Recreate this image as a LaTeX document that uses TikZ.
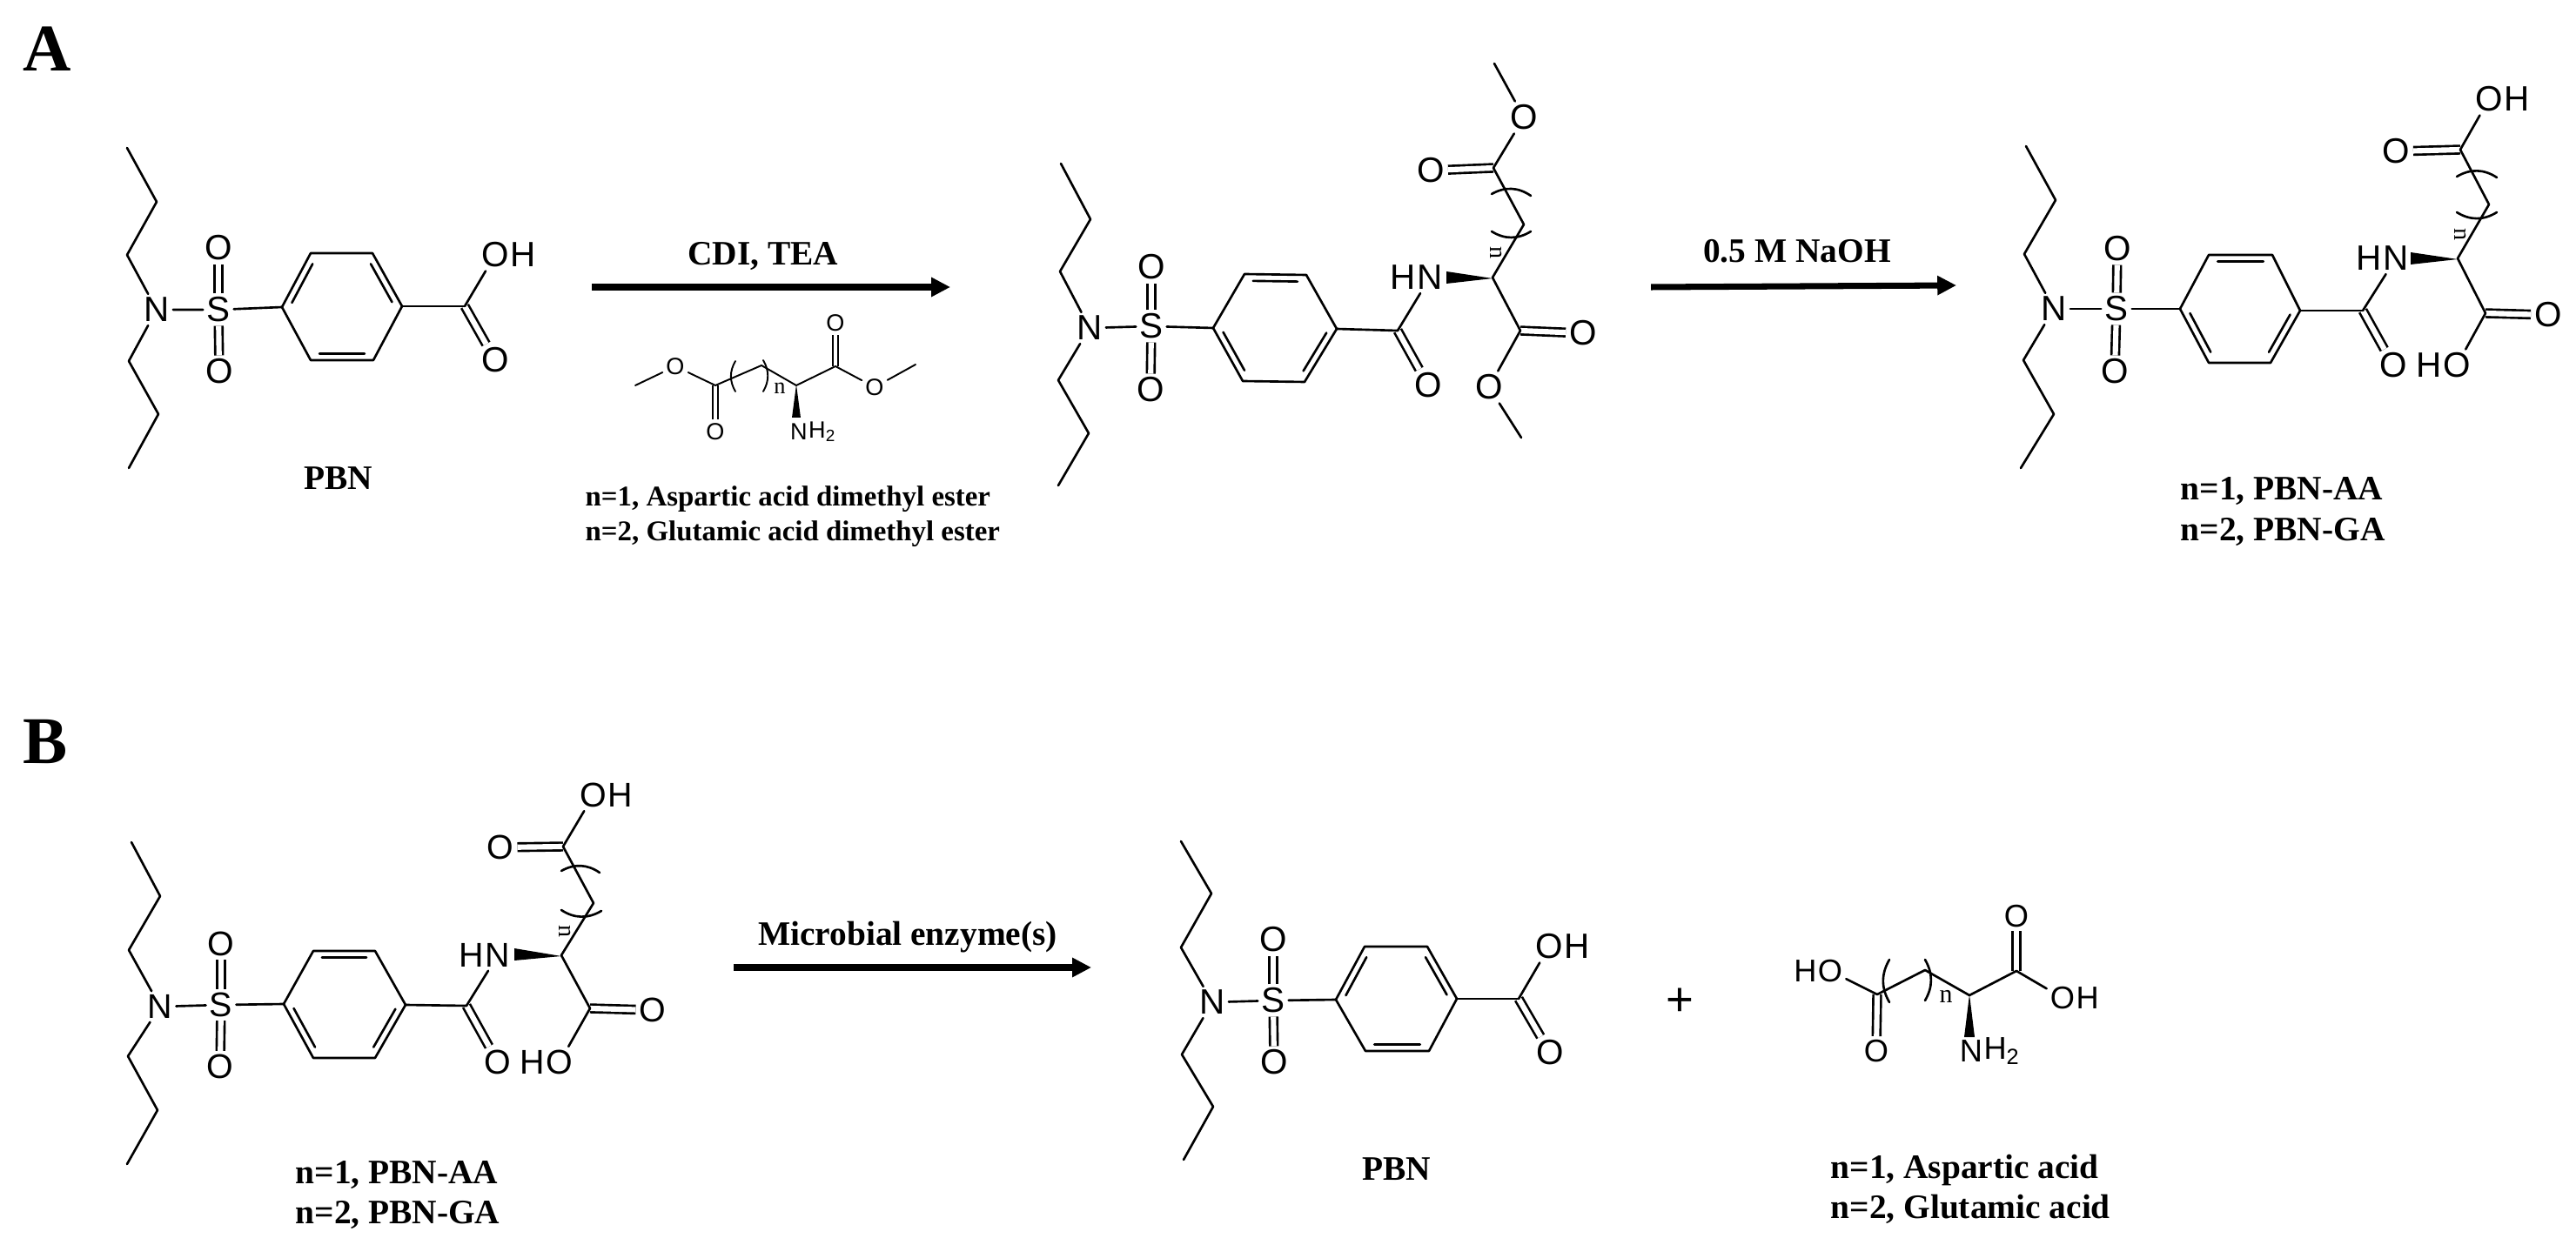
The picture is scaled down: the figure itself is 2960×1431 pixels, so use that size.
\documentclass[tikz,border=0pt]{standalone}
\usepackage{fontspec}
\setmainfont{Liberation Serif}
\setsansfont{Liberation Sans}
\usepackage{xcolor}
\usepackage{tikz}
\usetikzlibrary{calc,arrows.meta}
\tikzset{
  bond/.style={draw=black, line width=0.75pt, line cap=round, line join=round},
  thinbond/.style={draw=black, line width=0.55pt, line cap=round, line join=round},
  dbl/.style={draw=black, line width=0.75pt, double, double distance between line centers=2.5pt},
  thindbl/.style={draw=black, line width=0.55pt, double, double distance between line centers=1.8pt},
  atom/.style={font=\sffamily\fontsize{#1pt}{#1pt}\selectfont, inner sep=1pt},
  tailr/.style={atom=#1, anchor=west, inner xsep=0pt, xshift=-1pt},
  taill/.style={atom=#1, anchor=east, inner xsep=0pt, xshift=1pt},
  idx/.style={font=\fontsize{#1pt}{#1pt}\selectfont, inner sep=0pt},
  lab/.style={font=\bfseries\fontsize{#1pt}{#1pt}\selectfont, inner sep=0pt, anchor=base},
  lab/.default=11.2,
  side/.style={lab, anchor=base west},
  panel/.style={font=\bfseries\fontsize{21.8pt}{21.8pt}\selectfont, inner sep=0pt, anchor=base},
  react/.style={draw=black, line width=2pt, -{Triangle[length=6.2pt,width=6pt]}},
}
% N,S,ring and carbonyl carbon shared by every sulfonyl molecule
\newcommand{\pbncore}[3]{%
  \node[atom=#2] (#1N) at (#1pN) {N};
  \node[atom=#2] (#1S) at (#1pS) {S};
  \node[atom=#2] (#1U) at (#1pU) {O};
  \node[atom=#2] (#1D) at (#1pD) {O};
  \node[atom=#2] (#1E) at (#1pE) {O};
  \draw[dbl] (#1S) -- (#1U);
  \draw[dbl] (#1S) -- (#1D);
  \draw[dbl] (#1C) -- (#1E);
  \draw[bond] (#1t1) -- (#1c1) -- (#1c2) -- (#1N) -- (#1c3) -- (#1c4) -- (#1t2);
  \draw[bond] (#1N) -- (#1S) -- (#1r1);
  \draw[bond] (#1r1) -- (#1r2) -- (#1r3) -- (#1r4) -- (#1r5) -- (#1r6) -- cycle;
  \draw[bond] (#1r4) -- (#1C);
  \foreach \u/\v in {#3} {
    \draw[bond] ($(#1\u)!0.14!(#1\v)!2.2pt!-90:(#1\v)$) -- ($(#1\v)!0.14!(#1\u)!2.2pt!90:(#1\u)$);
  }
}
% amide NH, wedge, side chain with its bracket
\newcommand{\pbnchain}[2]{%
  \node[atom=#2] (#1HN) at (#1pHN) {N};
  \node[taill=#2] (#1HH) at (#1HN.west) {H};
  \draw[bond] (#1C) -- (#1HN);
  \fill ($(#1Ca)+(0,1)$) -- ($(#1w)+(0,-7)$) -- ($(#1w)+(0,7)$) -- cycle;
  \draw[dbl] (#1c5) -- (#1O5);
  \draw[dbl] (#1c6) -- (#1O6);
  \draw[bond] (#1c5) -- (#1Ca) -- (#1ch) -- (#1c6);
  \draw[bond] (#1pa) to[bend left=32] (#1pb);
  \draw[bond] (#1pc) to[bend right=32] (#1pd);
  \node[idx=8, rotate=-90] (#1idx) at (#1pn) {n};
}

\begin{document}
\begin{tikzpicture}[x=0.01cm, y=-0.01cm]
  \useasboundingbox (0,0) rectangle (2960,1431);
  \node[panel] (A) at (54,82) {A};
  \node[panel] (B) at (52,877) {B};

  % PBN, top left
  \foreach \id/\px/\py in {t1/146/170, c1/180/232, c2/146/293, c3/148/415, c4/182/476, t2/148/538,
    r1/324/353, r2/357/291, r3/428/291, r4/462/352, r5/429/414, r6/357/414, C/534/352,
    pN/180/356, pS/251/356, pU/251/285, pD/252/427, pE/569/414} {
    \coordinate (a\id) at (\px,\py);
  }
  \pbncore{a}{11.5}{r1/r2, r3/r4, r5/r6}
  \node[atom=11.5] (aOH) at (569,293) {O};
  \node[tailr=11.5] (aH) at (aOH.east) {H};
  \draw[bond] (aC) -- (aOH);
  \node[lab] (alab) at (389,563) {PBN};

  % first step
  \coordinate (s1) at (680,330);
  \coordinate (e1) at (1092,330);
  \draw[react] (s1) -- (e1);
  \node[lab] (cdi) at (877,305) {CDI, TEA};

  % amino ester under the arrow
  \coordinate (gme1) at (730,443);
  \coordinate (gc1) at (822,443);
  \coordinate (gch) at (875,420);
  \coordinate (gca) at (915,443);
  \coordinate (gc2) at (960,421);
  \coordinate (gme2) at (1052,419);
  \node[atom=7.7] (gO1) at (776,421) {O};
  \node[atom=7.7] (gO2) at (822,496) {O};
  \node[atom=7.7] (gO3) at (960,371) {O};
  \node[atom=7.7] (gO4) at (1005,445) {O};
  \node[atom=7.7, inner sep=0pt] (gN) at (918,496) {N};
  \node[atom=7.7, anchor=west, inner xsep=0pt] (gH) at (gN.east) {H\textsubscript{2}};
  \draw[thindbl] (gc1) -- (gO2);
  \draw[thindbl] (gc2) -- (gO3);
  \draw[thinbond] (gme1) -- (gO1) -- (gc1) -- (gch) -- (gca) -- (gc2) -- (gO4) -- (gme2);
  \fill (915,442) -- (910,480) -- (920,480) -- cycle;
  \draw[thinbond] (845,415) to[bend right=30] (845,450);
  \draw[thinbond] (877,414) to[bend left=30] (877,450);
  \node[idx=7.5] (gidx) at (896,446) {n};
  \node[lab=9.35, anchor=base west] (gl1) at (672,582) {n=1, Aspartic acid dimethyl ester};
  \node[lab=9.35, anchor=base west] (gl2) at (672,622) {n=2, Glutamic acid dimethyl ester};

  % dimethyl ester, top middle
  \foreach \id/\px/\py in {t1/1219/188, c1/1253/252, c2/1218/312, c3/1216/437, c4/1251/498, t2/1216/558,
    r1/1394/377, r2/1430/315, r3/1501/316, r4/1536/378, r5/1499/439, r6/1428/438, C/1606/380,
    pN/1252/377, pS/1323/375, pU/1323/307, pD/1322/448, pE/1641/443, pHN/1643/319,
    Ca/1715/319, w/1662/319, c5/1747/380, ch/1751/258, c6/1716/193,
    pa/1714/223, pb/1759/225, pc/1714/266, pd/1759/266, pn/1719/291} {
    \coordinate (m\id) at (\px,\py);
  }
  \node[atom=11.5] (mO5) at (1819,383) {O};
  \node[atom=11.5] (mO6) at (1644,196) {O};
  \node[atom=11.5] (mO7) at (1711,445) {O};
  \node[atom=11.5] (mO8) at (1751,135) {O};
  \coordinate (mme1) at (1748,503);
  \coordinate (mme2) at (1717,73);
  \pbncore{m}{11.5}{r2/r3, r4/r5, r6/r1}
  \pbnchain{m}{11.5}
  \draw[bond] (mc5) -- (mO7) -- (mme1);
  \draw[bond] (mc6) -- (mO8) -- (mme2);

  % second step
  \coordinate (s2) at (1897,330);
  \coordinate (e2) at (2248,328);
  \draw[react] (s2) -- (e2);
  \node[lab] (naoh) at (2065,302) {0.5 M NaOH};

  % diacid, top right
  \foreach \id/\px/\py in {t1/2328/168, c1/2362/230, c2/2326/292, c3/2325/414, c4/2360/476, t2/2322/538,
    r1/2505/355, r2/2538/293, r3/2611/293, r4/2643/357, r5/2609/417, r6/2538/417, C/2715/357,
    pN/2360/355, pS/2432/355, pU/2433/286, pD/2430/427, pE/2750/420, pHN/2753/297,
    Ca/2824/297, w/2770/297, c5/2856/360, ch/2860/235, c6/2827/172,
    pa/2823/203, pb/2869/204, pc/2823/244, pd/2869/244, pn/2827/270} {
    \coordinate (r\id) at (\px,\py);
  }
  \node[atom=11.5] (rO5) at (2928,362) {O};
  \node[atom=11.5] (rO6) at (2753,174) {O};
  \node[atom=11.5] (rO7) at (2823,420) {O};
  \node[atom=11.5] (rO8) at (2860,114) {O};
  \node[taill=11.5] (rH7) at (rO7.west) {H};
  \node[tailr=11.5] (rH8) at (rO8.east) {H};
  \pbncore{r}{11.5}{r2/r3, r4/r5, r6/r1}
  \pbnchain{r}{11.5}
  \draw[bond] (rc5) -- (rO7);
  \draw[bond] (rc6) -- (rO8);
  \node[side] (rl1) at (2505,575) {n=1, PBN-AA};
  \node[side] (rl2) at (2505,622) {n=2, PBN-GA};

  % diacid, bottom left
  \foreach \id/\px/\py in {t1/151/968, c1/184/1030, c2/148/1092, c3/147/1214, c4/181/1276, t2/146/1338,
    r1/326/1154, r2/360/1093, r3/431/1093, r4/466/1155, r5/431/1216, r6/360/1216, C/536/1156,
    pN/184/1157, pS/254/1155, pU/254/1085, pD/253/1226, pE/572/1221, pHN/572/1098,
    Ca/645/1098, w/591/1097, c5/678/1159, ch/682/1038, c6/647/973,
    pa/645/1001, pb/689/1003, pc/645/1046, pd/691/1047, pn/649/1071} {
    \coordinate (b\id) at (\px,\py);
  }
  \node[atom=11.2] (bO5) at (750,1161) {O};
  \node[atom=11.2] (bO6) at (575,974) {O};
  \node[atom=11.2] (bO7) at (643,1221) {O};
  \node[atom=11.2] (bO8) at (682,914) {O};
  \node[taill=11.2] (bH7) at (bO7.west) {H};
  \node[tailr=11.2] (bH8) at (bO8.east) {H};
  \pbncore{b}{11.2}{r2/r3, r4/r5, r6/r1}
  \pbnchain{b}{11.2}
  \draw[bond] (bc5) -- (bO7);
  \draw[bond] (bc6) -- (bO8);
  \node[side] (bl1) at (339,1360) {n=1, PBN-AA};
  \node[side] (bl2) at (339,1406) {n=2, PBN-GA};

  % third step
  \coordinate (s3) at (843,1112);
  \coordinate (e3) at (1254,1112);
  \draw[react] (s3) -- (e3);
  \node[lab] (enz) at (1043,1086) {Microbial enzyme(s)};

  % PBN, bottom middle
  \foreach \id/\px/\py in {t1/1357/967, c1/1392/1027, c2/1357/1089, c3/1358/1212, c4/1394/1272, t2/1360/1333,
    r1/1535/1149, r2/1568/1088, r3/1640/1088, r4/1674/1148, r5/1642/1208, r6/1569/1208, C/1745/1148,
    pN/1393/1152, pS/1463/1150, pU/1463/1080, pD/1464/1221, pE/1781/1210} {
    \coordinate (p\id) at (\px,\py);
  }
  \pbncore{p}{11.5}{r1/r2, r3/r4, r5/r6}
  \node[atom=11.5] (pOH) at (1780,1088) {O};
  \node[tailr=11.5] (pH) at (pOH.east) {H};
  \draw[bond] (pC) -- (pOH);
  \node[lab] (plab) at (1605,1356) {PBN};

  \node[atom=15.5] (plus) at (1930,1152) {+};

  % free amino acid
  \coordinate (hc1) at (2157,1143);
  \coordinate (hch) at (2212,1115);
  \coordinate (hca) at (2263,1144);
  \coordinate (hc2) at (2317,1116);
  \node[atom=10.3] (hO1) at (2103,1116) {O};
  \node[taill=10.3] (hH1) at (hO1.west) {H};
  \node[atom=10.3] (hO2) at (2156,1208) {O};
  \node[atom=10.3] (hO3) at (2317,1053) {O};
  \node[atom=10.3] (hO4) at (2370,1147) {O};
  \node[tailr=10.3] (hH4) at (hO4.east) {H};
  \node[atom=10.3, inner sep=0pt] (hN) at (2265,1208) {N};
  \node[atom=10.3, anchor=west, inner xsep=0pt] (hH) at (hN.east) {H\textsubscript{2}};
  \draw[dbl] (hc1) -- (hO2);
  \draw[dbl] (hc2) -- (hO3);
  \draw[bond] (hO1) -- (hc1) -- (hch) -- (hca) -- (hc2) -- (hO4);
  \fill (2263,1143) -- (2257,1192) -- (2269,1192) -- cycle;
  \draw[bond] (2171,1103) to[bend right=30] (2171,1152);
  \draw[bond] (2212,1103) to[bend left=30] (2212,1150);
  \node[idx=8.5] (hidx) at (2236,1145) {n};
  \node[side] (hl1) at (2103,1354) {n=1, Aspartic acid};
  \node[side] (hl2) at (2103,1400) {n=2, Glutamic acid};
\end{tikzpicture}
\end{document}
